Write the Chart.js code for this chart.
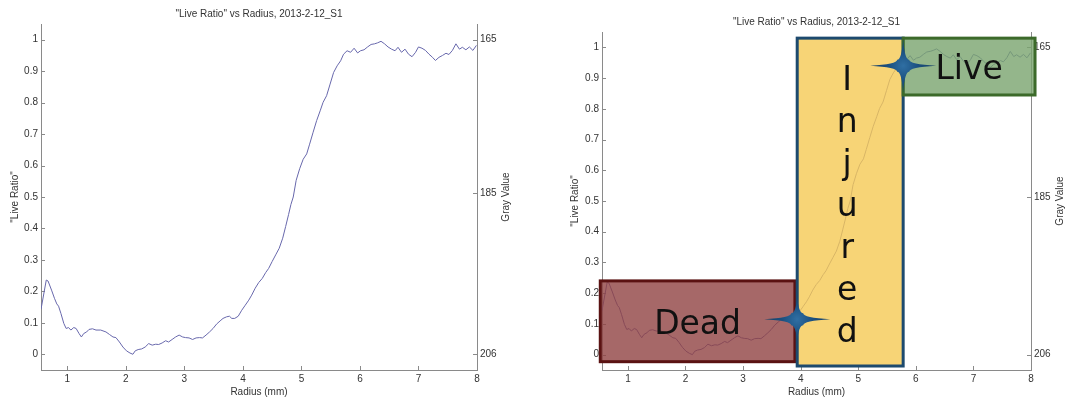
<!DOCTYPE html>
<html lang="en">
<head>
    <meta charset="UTF-8">
    <title>"Live Ratio" vs Radius, 2013-2-12_S1</title>
    <script src="https://cdn.jsdelivr.net/npm/chart.js@4.4.1/dist/chart.umd.min.js"></script>
    <style>
        body {
            margin: 0;
            background: #fff;
        }
        .panel {
            position: absolute;
            top: 0;
            width: 533px;
            height: 400px;
        }
        #plainPanel { left: 0; }
        #zonePanel { left: 533px; }
    </style>
</head>
<body>
    <div class="panel" id="plainPanel"><canvas id="plainChart"></canvas></div>
    <div class="panel" id="zonePanel"><canvas id="zoneChart"></canvas></div>

    <script>
        // radial profile, sample 2013-2-12_S1
        const radius = [0.55, 0.64, 0.67, 0.73, 0.78, 0.82, 0.85, 0.89, 0.94, 0.98,
            1.02, 1.06, 1.11, 1.15, 1.2, 1.24, 1.28, 1.33, 1.37, 1.43,
            1.49, 1.57, 1.66, 1.72, 1.78, 1.83, 1.89, 1.95, 2.01, 2.07,
            2.12, 2.16, 2.21, 2.27, 2.33, 2.39, 2.45, 2.51, 2.56, 2.62,
            2.68, 2.73, 2.79, 2.85, 2.91, 2.97, 3.02, 3.08, 3.14, 3.2,
            3.26, 3.31, 3.37, 3.43, 3.49, 3.55, 3.61, 3.66, 3.72, 3.77,
            3.81, 3.86, 3.92, 3.98, 4.04, 4.1, 4.15, 4.21, 4.27, 4.33,
            4.39, 4.44, 4.5, 4.56, 4.62, 4.68, 4.73, 4.78, 4.82, 4.86,
            4.91, 4.97, 5.03, 5.09, 5.14, 5.2, 5.26, 5.32, 5.37, 5.43,
            5.49, 5.55, 5.61, 5.67, 5.72, 5.78, 5.84, 5.9, 5.96, 6.01,
            6.07, 6.13, 6.19, 6.25, 6.3, 6.36, 6.42, 6.48, 6.54, 6.6,
            6.65, 6.71, 6.77, 6.83, 6.89, 6.95, 7.0, 7.06, 7.12, 7.18,
            7.24, 7.29, 7.35, 7.41, 7.47, 7.52, 7.58, 7.64, 7.7, 7.75,
            7.81, 7.87, 7.93, 7.99];
        const liveRatio = [0.143, 0.236, 0.233, 0.204, 0.178, 0.16, 0.153, 0.13, 0.098, 0.082,
            0.085, 0.077, 0.085, 0.082, 0.066, 0.055, 0.066, 0.071, 0.079, 0.081,
            0.077, 0.077, 0.071, 0.063, 0.055, 0.053, 0.039, 0.023, 0.011, 0.004,
            0.0, 0.011, 0.015, 0.017, 0.023, 0.034, 0.029, 0.032, 0.031, 0.036,
            0.043, 0.039, 0.047, 0.055, 0.061, 0.055, 0.053, 0.052, 0.047, 0.052,
            0.053, 0.052, 0.061, 0.071, 0.082, 0.096, 0.106, 0.114, 0.119, 0.121,
            0.114, 0.114, 0.121, 0.14, 0.156, 0.172, 0.188, 0.21, 0.228, 0.241,
            0.26, 0.273, 0.295, 0.316, 0.337, 0.369, 0.406, 0.444, 0.476, 0.5,
            0.553, 0.59, 0.62, 0.637, 0.668, 0.706, 0.743, 0.774, 0.801, 0.822,
            0.859, 0.896, 0.917, 0.933, 0.954, 0.965, 0.96, 0.973, 0.958, 0.965,
            0.968, 0.977, 0.985, 0.987, 0.99, 0.995, 0.987, 0.977, 0.97, 0.965,
            0.976, 0.96, 0.97, 0.954, 0.946, 0.96, 0.977, 0.973, 0.966, 0.954,
            0.944, 0.934, 0.944, 0.95, 0.957, 0.953, 0.966, 0.987, 0.97, 0.976,
            0.968, 0.977, 0.966, 0.982];

        const radiusTicks = [1, 2, 3, 4, 5, 6, 7, 8];
        const ratioTicks = [0, 0.1, 0.2, 0.3, 0.4, 0.5, 0.6, 0.7, 0.8, 0.9, 1];
        const grayTicks = [165, 185, 206];
        // gray value at ratio 0 and ratio 1
        const grayAtZero = 206;
        const grayAtOne = 165;

        // regions of the profile
        const zoneNames = ['Dead', 'Injured', 'Live'];
        const zoneRadius = [[0.52, 3.9], [3.94, 5.78], [5.78, 8.07]];
        const zoneRatio = [[-0.023, 0.24], [-0.037, 1.03], [0.845, 1.03]];
        // boundaries between regions
        const transitionRadius = [3.94, 5.78];
        const transitionRatio = [0.115, 0.94];

        const TITLE = '"Live Ratio" vs Radius, 2013-2-12_S1';
        const AXIS = '#8a8a8a';
        const INK = '#333';
        const FONT = { family: 'Arial, "Liberation Sans", sans-serif', size: 10 };
        const RATIO_MIN = -0.05, RATIO_MAX = 1.05;

        const zoneFill = ['rgba(144,66,66,0.8)', 'rgba(245,201,84,0.8)', 'rgba(121,164,110,0.8)'];
        const zoneEdge = ['#5a1212', '#1d4a6e', '#3c6a2a'];

        function toGray(r) {
            return grayAtZero + (grayAtOne - grayAtZero) * r;
        }

        // MATLAB style ticks pointing into the plot
        const innerTicks = {
            id: 'innerTicks',
            beforeDatasetsDraw(chart) {
                const { ctx, chartArea: a, scales } = chart;
                ctx.save();
                ctx.strokeStyle = AXIS;
                ctx.lineWidth = 1;
                ctx.beginPath();
                scales.x.ticks.forEach(t => {
                    const px = Math.round(scales.x.getPixelForValue(t.value)) + 0.5;
                    ctx.moveTo(px, a.bottom);
                    ctx.lineTo(px, a.bottom - 4);
                });
                scales.y.ticks.forEach(t => {
                    const py = Math.round(scales.y.getPixelForValue(t.value)) + 0.5;
                    ctx.moveTo(a.left, py);
                    ctx.lineTo(a.left + 4, py);
                });
                scales.gray.ticks.forEach(t => {
                    const py = Math.round(scales.gray.getPixelForValue(t.value)) + 0.5;
                    ctx.moveTo(a.right, py);
                    ctx.lineTo(a.right - 4, py);
                });
                ctx.stroke();
                ctx.restore();
            }
        };

        // right axis title reads bottom to top, like the left one
        const grayTitle = {
            id: 'grayTitle',
            afterDraw(chart) {
                const { ctx, chartArea: a } = chart;
                ctx.save();
                ctx.translate(a.right + 29.5, (a.top + a.bottom) / 2);
                ctx.rotate(-Math.PI / 2);
                ctx.font = FONT.size + 'px ' + FONT.family;
                ctx.fillStyle = INK;
                ctx.textAlign = 'center';
                ctx.textBaseline = 'middle';
                ctx.fillText('Gray Value', 0, 0);
                ctx.restore();
            }
        };

        // four-point sparkle, concave sides
        function drawStar(ctx, cx, cy, hw, hh) {
            const r = 6;
            const g = ctx.createRadialGradient(cx, cy, 0, cx, cy, hw);
            g.addColorStop(0, '#2f6fa3');
            g.addColorStop(0.45, '#1b5080');
            g.addColorStop(1, '#153e63');
            ctx.fillStyle = g;
            ctx.beginPath();
            ctx.moveTo(cx - hw, cy);
            ctx.quadraticCurveTo(cx - r, cy - 1.5, cx - r, cy - r);
            ctx.quadraticCurveTo(cx - 1.5, cy - r, cx, cy - hh);
            ctx.quadraticCurveTo(cx + 1.5, cy - r, cx + r, cy - r);
            ctx.quadraticCurveTo(cx + r, cy - 1.5, cx + hw, cy);
            ctx.quadraticCurveTo(cx + r, cy + 1.5, cx + r, cy + r);
            ctx.quadraticCurveTo(cx + 1.5, cy + r, cx, cy + hh);
            ctx.quadraticCurveTo(cx - 1.5, cy + r, cx - r, cy + r);
            ctx.quadraticCurveTo(cx - r, cy + 1.5, cx - hw, cy);
            ctx.closePath();
            ctx.fill();
        }

        const zones = {
            id: 'zones',
            afterDatasetsDraw(chart) {
                const { ctx, scales: { x, y } } = chart;
                ctx.save();
                const boxes = zoneNames.map((name, i) => {
                    const x0 = x.getPixelForValue(zoneRadius[i][0]);
                    const x1 = x.getPixelForValue(zoneRadius[i][1]);
                    const y0 = y.getPixelForValue(zoneRatio[i][1]);
                    const y1 = y.getPixelForValue(zoneRatio[i][0]);
                    ctx.fillStyle = zoneFill[i];
                    ctx.fillRect(x0, y0, x1 - x0, y1 - y0);
                    ctx.lineWidth = 3;
                    ctx.strokeStyle = zoneEdge[i];
                    ctx.strokeRect(x0, y0, x1 - x0, y1 - y0);
                    return { x0, x1, y0, y1 };
                });

                ctx.fillStyle = '#111';
                ctx.font = '33px "DejaVu Sans", sans-serif';
                ctx.textAlign = 'center';
                ctx.textBaseline = 'alphabetic';
                [0, 2].forEach(i => {
                    const b = boxes[i];
                    ctx.fillText(zoneNames[i], (b.x0 + b.x1) / 2, (b.y0 + b.y1) / 2 + 12.5);
                });
                const inj = boxes[1];
                zoneNames[1].split('').forEach((ch, k) => {
                    ctx.fillText(ch, (inj.x0 + inj.x1) / 2 - 3, inj.y0 + 52 + k * 42);
                });

                drawStar(ctx, x.getPixelForValue(transitionRadius[0]), y.getPixelForValue(transitionRatio[0]), 33, 22);
                drawStar(ctx, x.getPixelForValue(transitionRadius[1]), y.getPixelForValue(transitionRatio[1]), 33, 27);
                ctx.restore();
            }
        };

        function makeChart(id, layout, extraPlugins) {
            return new Chart(document.getElementById(id), {
                type: 'line',
                data: {
                    datasets: [{
                        data: radius.map((r, i) => ({ x: r, y: liveRatio[i] })),
                        borderColor: '#6868ac',
                        borderWidth: 1,
                        pointRadius: 0,
                        tension: 0,
                        yAxisID: 'y'
                    }]
                },
                options: {
                    responsive: true,
                    maintainAspectRatio: false,
                    animation: false,
                    events: [],
                    layout: { padding: 0 },
                    plugins: {
                        legend: { display: false },
                        tooltip: { enabled: false },
                        title: {
                            display: true,
                            text: TITLE,
                            fullSize: false,
                            color: INK,
                            font: { ...FONT, weight: 'normal' },
                            padding: { top: layout.titleTop, bottom: 4 }
                        }
                    },
                    scales: {
                        x: {
                            type: 'linear',
                            min: 0.55,
                            max: 8,
                            afterBuildTicks: s => { s.ticks = radiusTicks.map(v => ({ value: v })); },
                            afterFit: s => { s.height = 30; s.paddingLeft = 0; s.paddingRight = 0; },
                            grid: { display: false, drawTicks: false },
                            border: { display: true, color: AXIS, width: 1 },
                            ticks: { color: INK, font: FONT, padding: 3, maxRotation: 0, callback: v => String(v) },
                            title: { display: true, text: 'Radius (mm)', color: INK, font: FONT, padding: { top: 0, bottom: 2 } }
                        },
                        y: {
                            type: 'linear',
                            position: 'left',
                            min: RATIO_MIN,
                            max: RATIO_MAX,
                            afterBuildTicks: s => { s.ticks = ratioTicks.map(v => ({ value: v })); },
                            afterFit: s => { s.width = layout.leftWidth; s.paddingTop = 0; s.paddingBottom = 0; },
                            grid: { display: false, drawTicks: false },
                            border: { display: true, color: AXIS, width: 1 },
                            ticks: { color: INK, font: FONT, padding: 3, callback: v => String(v) },
                            title: { display: true, text: '"Live Ratio"', color: INK, font: FONT, padding: { top: layout.ratioTitlePad, bottom: 0 } }
                        },
                        gray: {
                            type: 'linear',
                            position: 'right',
                            reverse: true,
                            min: toGray(RATIO_MAX),
                            max: toGray(RATIO_MIN),
                            afterBuildTicks: s => { s.ticks = grayTicks.map(v => ({ value: v })); },
                            afterFit: s => { s.width = layout.rightWidth; s.paddingTop = 0; s.paddingBottom = 0; },
                            grid: { display: false, drawTicks: false },
                            border: { display: true, color: AXIS, width: 1 },
                            ticks: { color: INK, font: FONT, padding: 3, callback: v => String(v) }
                        }
                    }
                },
                plugins: [innerTicks, grayTitle].concat(extraPlugins)
            });
        }

        makeChart('plainChart', { titleTop: 8, leftWidth: 41, rightWidth: 56, ratioTitlePad: 9 }, []);
        makeChart('zoneChart', { titleTop: 16, leftWidth: 69, rightWidth: 35, ratioTitlePad: 36 }, [zones]);
    </script>
</body>
</html>
